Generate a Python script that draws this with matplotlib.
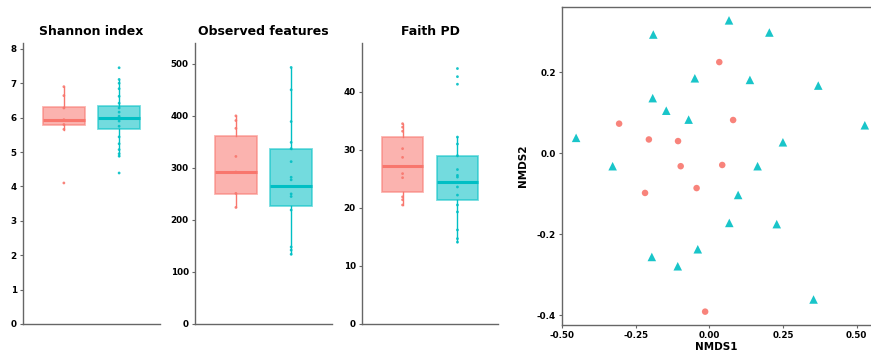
import matplotlib
matplotlib.use("Agg")
import matplotlib.pyplot as plt

PINK = "#F8766D"
TEAL = "#00BFC4"

# alpha diversity: raw sample values
shannon_a = [6.9, 6.64, 6.28, 5.94, 5.80, 5.66, 4.10]
shannon_b = [7.45, 7.11, 7.0, 6.84, 6.62, 6.42, 6.28, 6.16, 6.04, 5.90,
             5.75, 5.44, 5.24, 5.07, 4.95, 4.88, 4.39]
observed_a = [400, 391, 376, 322, 292, 251, 224]
observed_b = [493, 450, 389, 349, 337, 312, 282, 277, 250, 245, 219, 148, 142, 134]
faith_a = [34.5, 33.9, 33.2, 30.2, 28.7, 25.9, 25.2, 21.9, 21.4, 20.5]
faith_b = [44.0, 42.6, 41.3, 32.2, 31.0, 29.0, 26.6, 25.6, 25.3, 24.4, 23.6,
           22.2, 20.5, 19.3, 16.2, 14.7, 14.1]

# box summaries: (whisker low, q1, median, q3, whisker high)
shannon_box_a = (5.65, 5.80, 5.93, 6.32, 6.90)
shannon_box_b = (4.88, 5.66, 6.00, 6.33, 7.10)
observed_box_a = (225, 249, 292, 362, 400)
observed_box_b = (135, 227, 265, 336, 492)
faith_box_a = (20.5, 22.75, 27.2, 32.2, 34.5)
faith_box_b = (14.1, 21.3, 24.4, 29.0, 32.2)

# NMDS ordination
nmds1_a = [0.034, -0.306, 0.081, -0.205, -0.106, -0.097, 0.044, -0.218, -0.043, -0.014]
nmds2_a = [0.225, 0.073, 0.082, 0.034, 0.030, -0.032, -0.029, -0.098, -0.086, -0.391]
nmds1_b = [-0.190, 0.067, 0.204, -0.049, 0.138, 0.370, -0.192, -0.146, -0.070, 0.528,
           -0.452, 0.250, -0.328, 0.164, 0.098, 0.068, 0.229, -0.039, -0.195, -0.107, 0.354]
nmds2_b = [0.293, 0.328, 0.298, 0.185, 0.181, 0.167, 0.136, 0.105, 0.083, 0.069,
           0.038, 0.027, -0.032, -0.032, -0.103, -0.172, -0.175, -0.237, -0.256, -0.279, -0.361]

TICK_FONT = dict(fontsize=6.3, fontweight="bold")
SPINE = "#666666"


def box_stats(s):
    return {"whislo": s[0], "q1": s[1], "med": s[2], "q3": s[3], "whishi": s[4], "fliers": []}


def alpha_panel(ax, title, box_a, box_b, pts_a, pts_b, ymax, yticks):
    for pos, box, pts, col in [(0, box_a, pts_a, PINK), (1, box_b, pts_b, TEAL)]:
        ax.bxp([box_stats(box)], positions=[pos], widths=0.76, patch_artist=True,
               showcaps=False, showfliers=False,
               boxprops=dict(facecolor=col, alpha=0.55, edgecolor=col, linewidth=1.3),
               whiskerprops=dict(color=col, linewidth=1.0),
               medianprops=dict(color=col, linewidth=2.2))
        ax.scatter([pos] * len(pts), pts, s=4, color=col, alpha=0.9, zorder=3,
                   edgecolors="none")
    ax.set_xlim(-0.74, 1.74)
    ax.set_ylim(0, ymax)
    ax.set_yticks(yticks)
    ax.set_yticklabels([str(t) for t in yticks], **TICK_FONT)
    ax.set_xticks([])
    ax.set_title(title, fontsize=9, fontweight="bold", pad=6)
    for side in ["top", "right"]:
        ax.spines[side].set_visible(False)
    for side in ["left", "bottom"]:
        ax.spines[side].set_color(SPINE)
        ax.spines[side].set_linewidth(1.0)
    ax.tick_params(axis="y", length=2.5, width=0.8, color=SPINE, pad=2)


fig = plt.figure(figsize=(8.71, 3.53), dpi=100)

ax1 = fig.add_axes([0.0264, 0.0822, 0.1573, 0.796])
ax2 = fig.add_axes([0.2239, 0.0822, 0.1573, 0.796])
ax3 = fig.add_axes([0.4156, 0.0822, 0.1562, 0.796])

alpha_panel(ax1, "Shannon index", shannon_box_a, shannon_box_b, shannon_a, shannon_b,
            8.17, list(range(0, 9)))
alpha_panel(ax2, "Observed features", observed_box_a, observed_box_b, observed_a, observed_b,
            540, list(range(0, 501, 100)))
alpha_panel(ax3, "Faith PD", faith_box_a, faith_box_b, faith_a, faith_b,
            48.4, list(range(0, 41, 10)))

ax4 = fig.add_axes([0.6452, 0.0793, 0.3548, 0.9009])
ax4.scatter(nmds1_b, nmds2_b, marker="^", s=38, color=TEAL, alpha=0.9, edgecolors="none")
ax4.scatter(nmds1_a, nmds2_a, marker="o", s=22, color=PINK, alpha=0.9, edgecolors="none")
ax4.set_xlim(-0.50, 0.549)
ax4.set_ylim(-0.424, 0.361)
xt = [-0.50, -0.25, 0.00, 0.25, 0.50]
yt = [0.2, 0.0, -0.2, -0.4]
ax4.set_xticks(xt)
ax4.set_xticklabels([f"{v:.2f}" for v in xt], **TICK_FONT)
ax4.set_yticks(yt)
ax4.set_yticklabels([f"{v:.1f}" for v in yt], **TICK_FONT)
ax4.set_xlabel("NMDS1", fontsize=7.5, fontweight="bold", labelpad=1)
ax4.set_ylabel("NMDS2", fontsize=7.5, fontweight="bold", labelpad=6)
ax4.spines["right"].set_visible(False)
for side in ["left", "bottom", "top"]:
    ax4.spines[side].set_color(SPINE)
    ax4.spines[side].set_linewidth(1.0)
ax4.tick_params(length=2.5, width=0.8, color=SPINE, pad=2)

fig.savefig("out.png", dpi=100)
